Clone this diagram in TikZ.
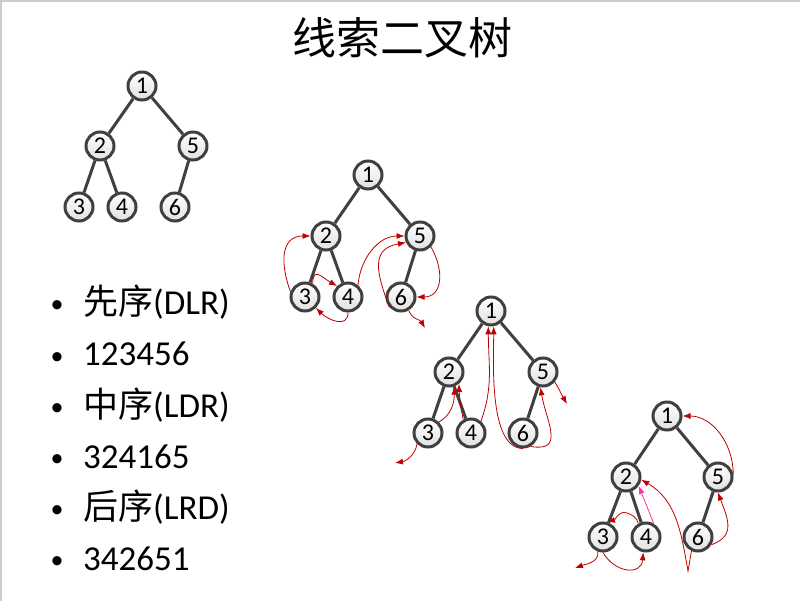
\documentclass[tikz,border=0pt]{standalone}
\usepackage{fontspec}
\setmainfont{Carlito}
\newfontfamily\cjk{Noto Sans CJK SC}
\usetikzlibrary{arrows.meta}
\definecolor{edgegray}{RGB}{64,64,64}
\definecolor{thread}{RGB}{192,0,0}
\definecolor{pinkthread}{RGB}{255,51,153}

\begin{document}
\begin{tikzpicture}[x=1pt,y=1pt]
  \tikzstyle{n} = [circle,draw=edgegray,line width=3pt,minimum size=28pt,inner sep=0pt,
                   top color=white,bottom color=black!12,font=\fontsize{24}{24}\selectfont]
  \tikzstyle{e} = [draw=edgegray,line width=3pt]
  \tikzstyle{thr} = [draw=thread,line width=0.8pt,-{Latex[length=8pt,width=6pt]}]
  \tikzstyle{item} = [anchor=base west,inner sep=0pt,font=\fontsize{35}{42}\selectfont]
  \tikzstyle{dot} = [anchor=base,inner sep=0pt,font=\fontsize{26}{30}\selectfont]
  \useasboundingbox (0,0) rectangle (800,-601);
  \draw[black!20,line width=2pt] (1,-601) -- (1,-1) -- (800,-1);
  %%
  \node (title) at (402,-38) {\cjk\fontsize{44}{44}\selectfont 线索二叉树};
  %%
  \foreach \y in {315,366,417,468,519,570}
    \node[dot] (dot\y) at (57,-\y+2) {•};
  \node[item] (pre) at (83,-315) {{\cjk 先序}(DLR)};
  \node[item] (preseq) at (83,-366) {123456};
  \node[item] (in) at (83,-417) {{\cjk 中序}(LDR)};
  \node[item] (inseq) at (83,-468) {324165};
  \node[item] (post) at (83,-519) {{\cjk 后序}(LRD)};
  \node[item] (postseq) at (83,-570) {342651};
  %%
  \begin{scope}[shift={(142,-86)}]
    \node[n] (1) at (0,0) {1};
    \node[n] (2) at (-42,-60) {2};
    \node[n] (5) at (51,-60) {5};
    \node[n] (3) at (-63,-121) {3};
    \node[n] (4) at (-20,-121) {4};
    \node[n] (6) at (33,-121) {6};
    \path[e] (1) -- (2); \path[e] (1) -- (5);
    \path[e] (2) -- (3); \path[e] (2) -- (4); \path[e] (5) -- (6);
  \end{scope}
  %%
  \begin{scope}[shift={(368,-175)}]
    \node[n] (1) at (0,0) {1};
    \node[n] (2) at (-42,-61) {2};
    \node[n] (5) at (52,-61) {5};
    \node[n] (3) at (-63,-122) {3};
    \node[n] (4) at (-20,-122) {4};
    \node[n] (6) at (33,-122) {6};
    \coordinate (6null) at (57,-153);
    \path[e] (1) -- (2); \path[e] (1) -- (5);
    \path[e] (2) -- (3); \path[e] (2) -- (4); \path[e] (5) -- (6);
    \path[thr] (3.160) to[out=110,in=180,looseness=1.3] (2.west);
    \path[thr] (3.60) to[out=90,in=150,looseness=1.8] (4.135);
    \path[thr] (4.south) to[out=-90,in=-45,looseness=1.3] (3.-45);
    \path[thr] (4.50) to[out=85,in=180] (5.west);
    \path[thr] (6.220) to[out=110,in=190,looseness=1.4] (5.205);
    \path[thr] (5.-45) to[out=-60,in=0,looseness=1.3] (6.east);
    \path[thr] (6.-60) to[out=-70,in=120] (6null);
  \end{scope}
  %%
  \begin{scope}[shift={(491,-311)}]
    \node[n] (1) at (0,0) {1};
    \node[n] (2) at (-42,-61) {2};
    \node[n] (5) at (52,-61) {5};
    \node[n] (3) at (-63,-122) {3};
    \node[n] (4) at (-20,-122) {4};
    \node[n] (6) at (32,-122) {6};
    \coordinate (3null) at (-96,-152);
    \coordinate (5null) at (76,-93);
    \path[e] (1) -- (2); \path[e] (1) -- (5);
    \path[e] (2) -- (3); \path[e] (2) -- (4); \path[e] (5) -- (6);
    \path[thr] (3.225) to[out=-100,in=10] (3null);
    \path[thr] (3.45) to[out=30,in=-90] (2.-70);
    \path[thr] (4.120) to[bend left=5] (2.-50);
    \path[thr] (4.50) to[out=70,in=-90] (1.-100);
    \path[thr] (6.south) to[out=180,in=-90,looseness=0.7] (1.-80);
    \path[thr] (6.-60) to[out=-10,in=-80,looseness=1.5] (5.-100);
    \path[thr] (5.-40) to[out=-60,in=120] (5null);
  \end{scope}
  %%
  \begin{scope}[shift={(667,-416)}]
    \node[n] (1) at (0,0) {1};
    \node[n] (2) at (-41,-61) {2};
    \node[n] (5) at (51,-61) {5};
    \node[n] (3) at (-64,-121) {3};
    \node[n] (4) at (-21,-121) {4};
    \node[n] (6) at (31,-121) {6};
    \coordinate (3null) at (-92,-152);
    \coordinate (6low) at (21,-155);
    \coordinate (wig) at (-40,-97);
    \path[e] (1) -- (2); \path[e] (1) -- (5);
    \path[e] (2) -- (3); \path[e] (2) -- (4); \path[e] (5) -- (6);
    \path[thr] (3.-110) to[out=-80,in=20] (3null);
    \path[thr] (3.south) to[out=-60,in=-95,looseness=1.5] (4.-100);
    \path[thr] (4.120) to[out=100,in=-20] (wig) to[out=160,in=15] (3.75);
    \path[thr,draw=pinkthread] (4.60) -- (2.-35);
    \path[thr] (6.-115) -- (6low) to[out=100,in=-30] (2.-10);
    \path[thr] (6.-30) to[out=20,in=-70,looseness=1.3] (5.south);
    \path[thr] (5.10) to[out=90,in=0] (1.east);
  \end{scope}
\end{tikzpicture}
\end{document}
